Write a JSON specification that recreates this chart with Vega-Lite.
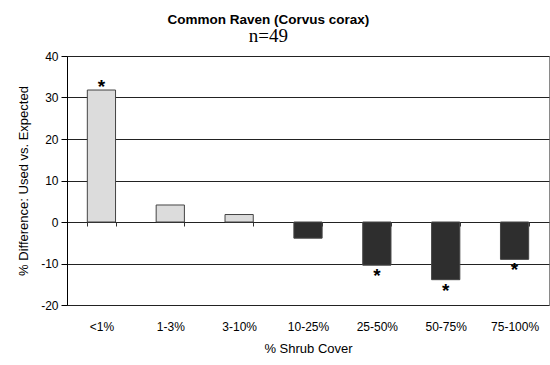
{
  "$schema": "https://vega.github.io/schema/vega-lite/v6.json",
  "width": 482,
  "height": 249,
  "autosize": {"type": "none"},
  "padding": {"left": 67, "top": 56, "right": 1, "bottom": 60},
  "background": "white",
  "title": {
    "text": "Common Raven (Corvus corax)",
    "subtitle": "n=49",
    "frame": "bounds",
    "anchor": "middle",
    "dx": -15,
    "font": "Liberation Sans",
    "fontSize": 13.5,
    "fontWeight": "bold",
    "color": "black",
    "subtitleFont": "Liberation Serif",
    "subtitleFontSize": 19,
    "subtitleColor": "black",
    "subtitlePadding": 1,
    "offset": 4
  },
  "config": {
    "font": "Liberation Sans",
    "view": {"stroke": "#8a8a8a", "strokeWidth": 1},
    "axis": {
      "labelFont": "Liberation Sans",
      "titleFont": "Liberation Sans",
      "labelColor": "black",
      "titleColor": "black",
      "titleFontWeight": "normal"
    }
  },
  "data": {
    "values": [
      {"cover": "<1%", "diff": 31.8, "side": "light", "sig": true},
      {"cover": "1-3%", "diff": 4.1, "side": "light", "sig": false},
      {"cover": "3-10%", "diff": 1.8, "side": "light", "sig": false},
      {"cover": "10-25%", "diff": -3.9, "side": "dark", "sig": false},
      {"cover": "25-50%", "diff": -10.4, "side": "dark", "sig": true},
      {"cover": "50-75%", "diff": -13.9, "side": "dark", "sig": true},
      {"cover": "75-100%", "diff": -9.0, "side": "dark", "sig": true}
    ]
  },
  "encoding": {
    "x": {
      "field": "cover",
      "type": "nominal",
      "sort": null,
      "scale": {"paddingInner": 0.59, "paddingOuter": 0.295},
      "axis": {
        "orient": "bottom",
        "offset": -83,
        "title": "% Shrub Cover",
        "titleFontSize": 13,
        "titlePadding": 10,
        "labelFontSize": 12,
        "labelAngle": 0,
        "labelPadding": 95,
        "domain": false,
        "ticks": true,
        "tickBand": "extent",
        "tickSize": 4,
        "tickColor": "#333"
      }
    },
    "y": {
      "field": "diff",
      "type": "quantitative",
      "scale": {"domain": [-20, 40], "nice": false, "zero": true},
      "axis": {
        "title": "% Difference: Used vs. Expected",
        "titleFontSize": 13,
        "titlePadding": 10,
        "labelFontSize": 12,
        "labelPadding": 3,
        "labelExpr": "'' + datum.value",
        "values": [-20, -10, 0, 10, 20, 30, 40],
        "tickSize": 6,
        "tickColor": "black",
        "domainColor": "black",
        "gridColor": "#222",
        "gridOpacity": 1
      }
    }
  },
  "layer": [
    {
      "mark": {"type": "bar", "stroke": "#444", "strokeWidth": 1},
      "encoding": {
        "color": {
          "field": "side",
          "type": "nominal",
          "scale": {"domain": ["light", "dark"], "range": ["#dcdcdc", "#2e2e2e"]},
          "legend": null
        }
      }
    },
    {
      "transform": [{"filter": "datum.sig && datum.diff > 0"}],
      "mark": {"type": "text", "text": "*", "fontSize": 19, "fontWeight": "bold", "baseline": "bottom", "dy": 7, "color": "black"}
    },
    {
      "transform": [{"filter": "datum.sig && datum.diff < 0"}],
      "mark": {"type": "text", "text": "*", "fontSize": 19, "fontWeight": "bold", "baseline": "top", "dy": 2, "color": "black"}
    }
  ]
}
